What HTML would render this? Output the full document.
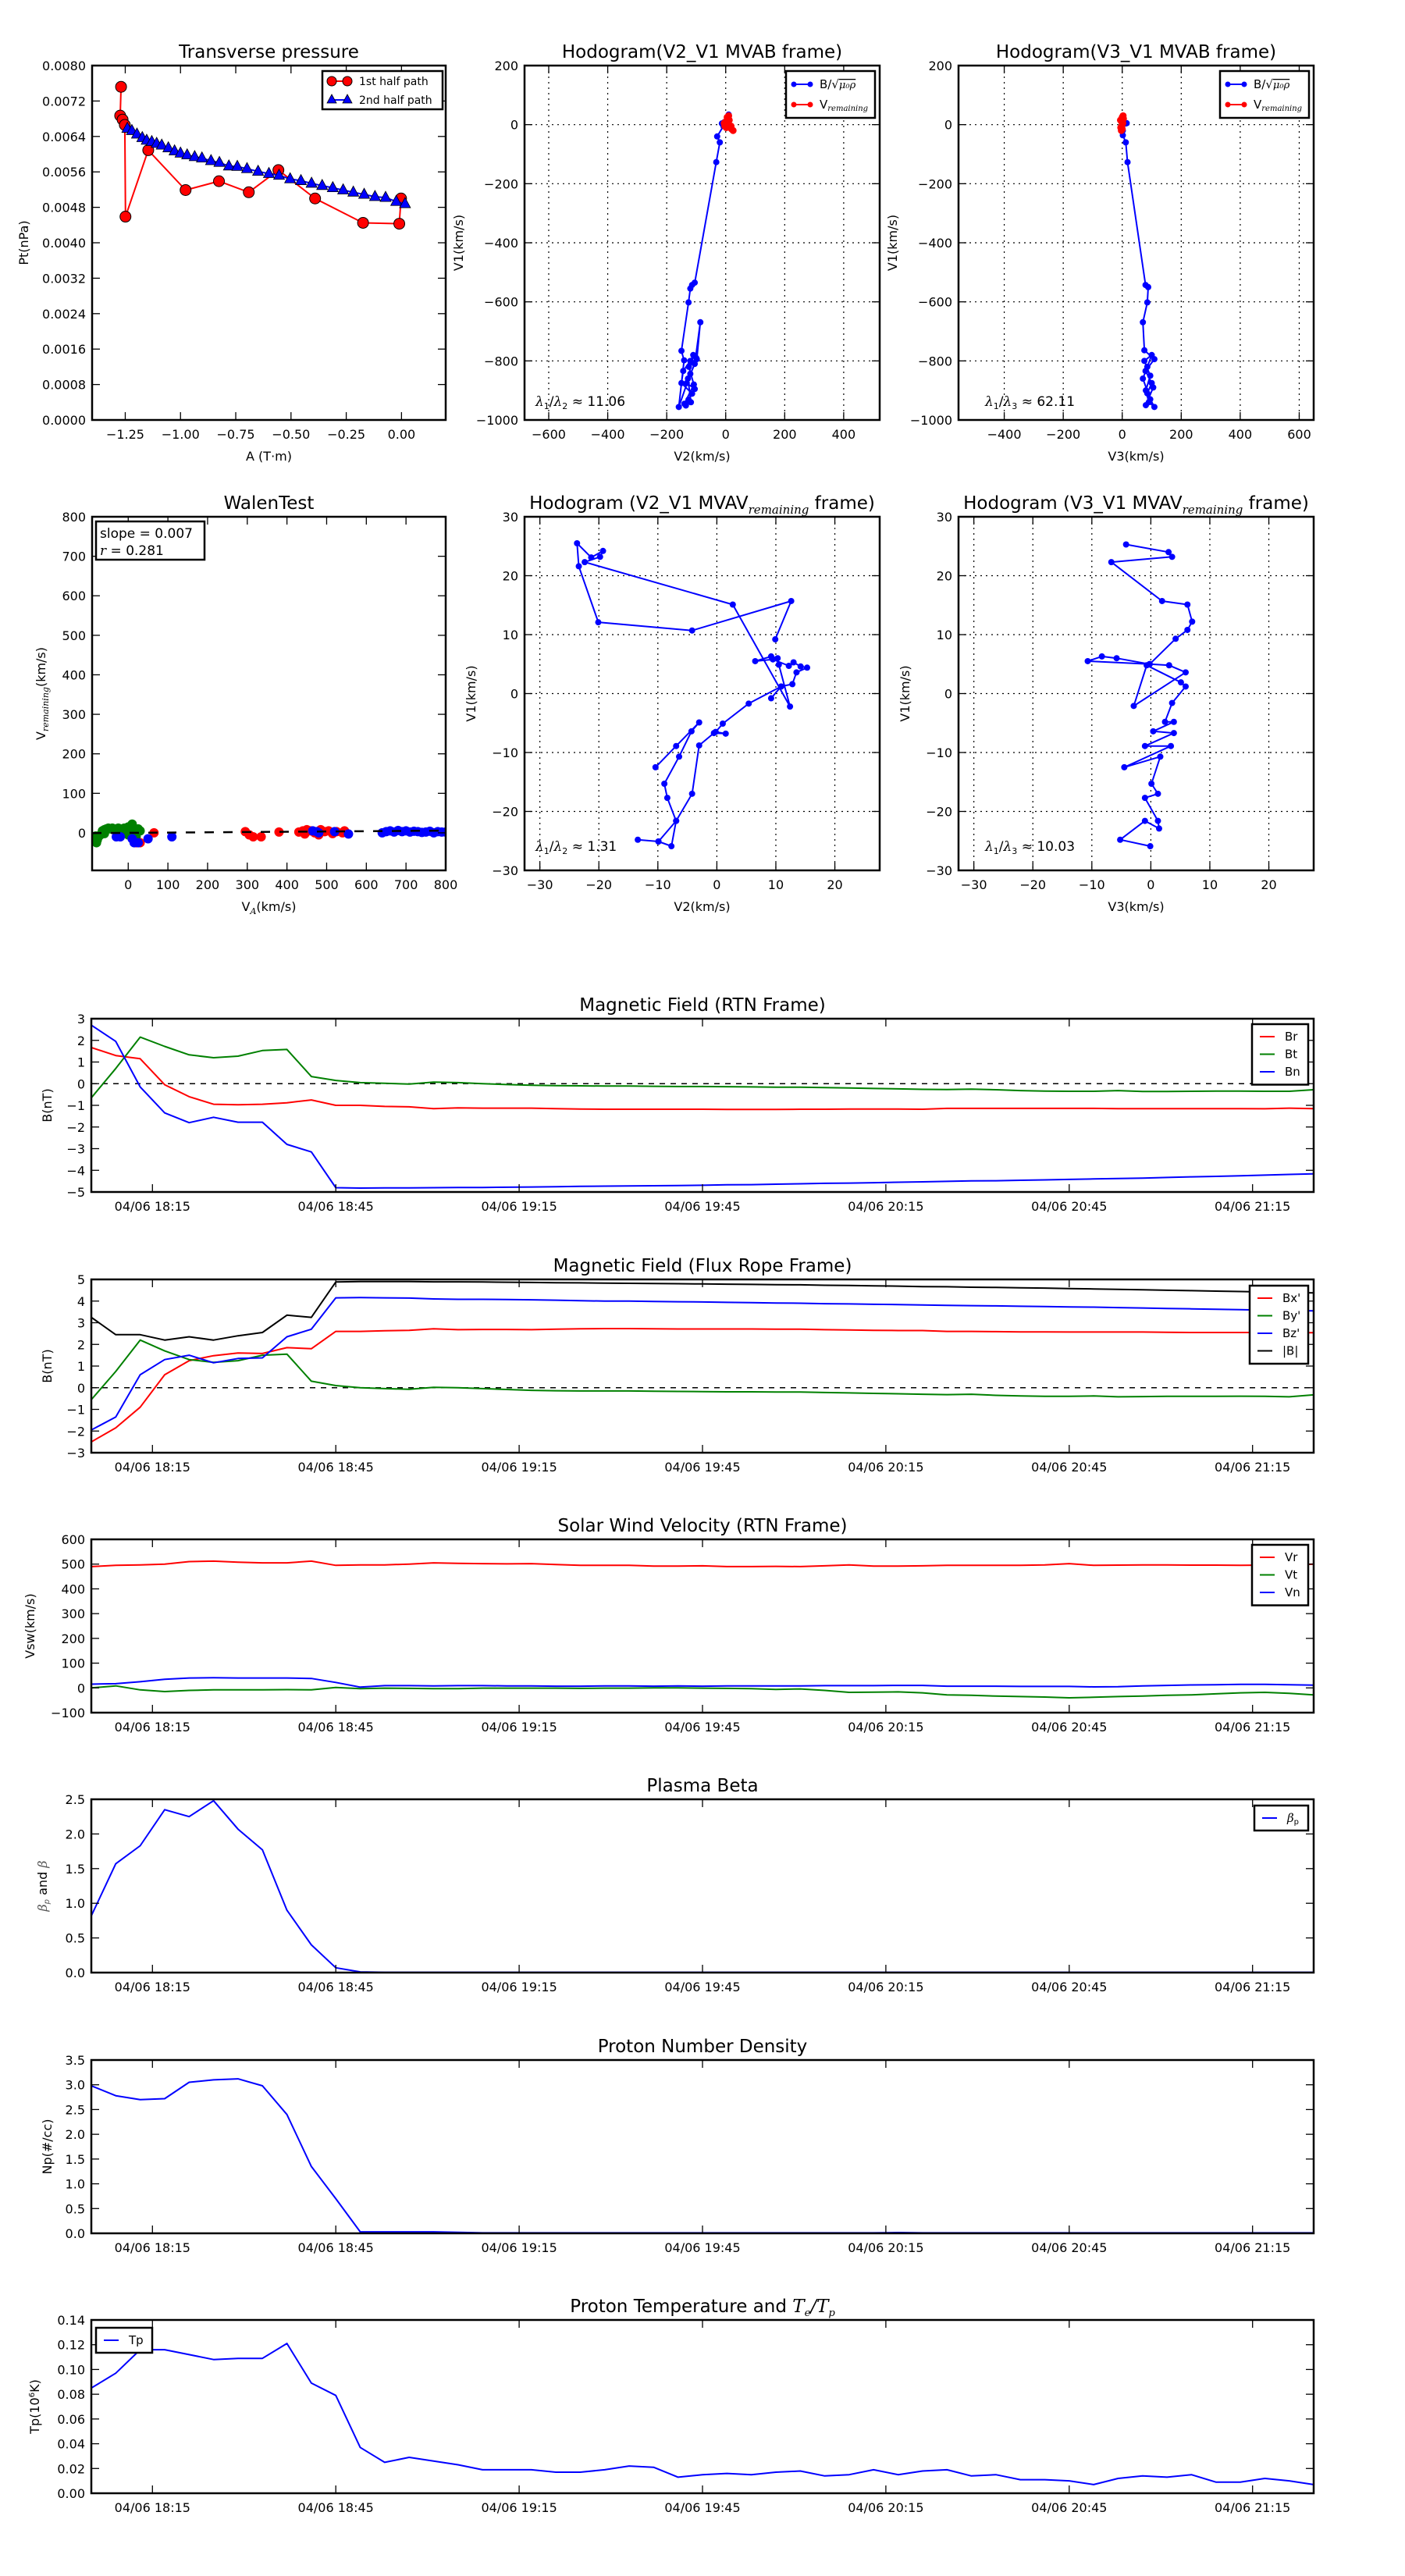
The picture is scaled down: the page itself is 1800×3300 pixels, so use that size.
<!DOCTYPE html>
<html><head><meta charset="utf-8"><title>Flux rope analysis</title>
<style>
html,body{margin:0;padding:0;background:#fff;}
svg{display:block;font-family:"DejaVu Sans","Liberation Sans",sans-serif;}
</style></head>
<body>
<svg id="fig" width="1800" height="3300" viewBox="0 0 1800 3300" xmlns="http://www.w3.org/2000/svg">
<rect x="0" y="0" width="1800" height="3300" fill="#fff"/>
</svg>
<script>
// ---------------- DATA ----------------
const ptRedA=[-1.269,-1.273,-1.262,-1.252,-1.249,-1.146,-0.977,-0.826,-0.691,-0.557,-0.391,-0.174,-0.01,-0.002];
const ptRedP=[0.00752,0.00687,0.00678,0.00666,0.00459,0.00609,0.00519,0.00539,0.00514,0.00564,0.00500,0.00445,0.00443,0.00500];
const ptBlueA=[-1.2405,-1.220,-1.197,-1.173,-1.153,-1.130,-1.108,-1.085,-1.055,-1.027,-1.000,-0.970,-0.936,-0.903,-0.862,-0.824,-0.781,-0.743,-0.699,-0.649,-0.600,-0.554,-0.504,-0.455,-0.407,-0.359,-0.311,-0.264,-0.218,-0.169,-0.120,-0.072,-0.024,0.016];
const ptBlueP=[0.00658,0.00653,0.00645,0.00637,0.00631,0.00628,0.00624,0.00620,0.00614,0.00607,0.00602,0.00598,0.00594,0.00591,0.00585,0.00581,0.00573,0.00572,0.00567,0.00561,0.00556,0.00552,0.00544,0.00540,0.00534,0.00529,0.00524,0.00519,0.00514,0.00509,0.00504,0.00502,0.00493,0.00488];

const h1BV2=[10,5,-5,-13,-8,-29,-20,-32,-105,-114,-120,-126,-150,-141,-159,-120,-98,-86,-105,-132,-105,-126,-135,-114,-150,-144,-120,-110,-128,-118,-140,-108,-125,-100];
const h1BV1=[34,20,8,4,-5,-40,-60,-127,-535,-543,-555,-602,-766,-798,-956,-844,-794,-669,-810,-875,-895,-931,-951,-911,-875,-834,-800,-780,-860,-940,-945,-880,-820,-790];
const h1RV2=[0,5,10,-5,15,20,25,8,-3,12,18,2];
const h1RV1=[10,25,30,5,-10,-15,-20,0,-5,15,-5,-10];
const h2BV3=[15,12,2,2,12,18,79,88,85,70,75,109,79,100,85,109,90,80,95,75,100,85,70,95,80,105];
const h2BV1=[5,4,-20,-36,-60,-127,-543,-550,-602,-669,-764,-794,-834,-875,-910,-956,-940,-900,-850,-800,-780,-820,-860,-930,-950,-890];
const h2RV3=[0,-2,0,3,-5,-3,2,-6,0,4];
const h2RV1=[0,10,25,30,-10,-20,5,15,-15,20];

const walenGreenX=[-88,-85,-80,-75,-70,-65,-60,-55,-50,-45,-40,-35,-30,-25,-20,-15,-10,-5,0,5,10,15,20,25,30,-82,-78,-60,0,20];
const walenGreenY=[-20,-15,-25,-10,-5,5,8,10,12,10,12,8,10,12,10,8,12,10,15,12,22,8,5,10,5,-8,-18,-2,-5,-10];
const walenRedX=[20,30,65,295,305,315,335,380,430,440,445,450,460,470,480,485,495,505,515,525,540,545];
const walenRedY=[-25,-25,0,3,-5,-10,-10,2,2,5,-3,8,5,0,-5,8,3,5,-2,3,0,5];
const walenBlueX=[-30,-20,10,15,25,50,110,465,475,480,520,555,640,650,660,670,680,690,700,710,720,730,740,750,760,770,780,790,800];
const walenBlueY=[-10,-10,-15,-25,-25,-15,-10,5,3,0,3,-3,0,3,5,2,6,3,5,2,4,3,1,2,4,0,3,2,2];
const walenSlope=0.007;

const h3V2=[9.9,12.6,-4.2,-20.1,-23.4,-23.7,-21.3,-19.3,-19.8,-22.4,2.7,12.4,10.5,10.3,9.2,6.5,9.5,12.2,13.0,14.2,15.3,13.5,12.8,10.9,9.2,10.9,5.4,1.0,-0.2,1.5,-0.5,-3.0,-4.2,-6.9,-7.7,-9.9,-13.4,-9.9,-6.9,-8.4,-8.9,-6.4,-4.3,-3.0,-6.9,-10.4];
const h3V1=[9.2,15.7,10.7,12.1,21.6,25.5,23.1,24.2,23.2,22.3,15.1,-2.2,4.9,6.0,6.3,5.5,5.8,4.7,5.3,4.6,4.4,3.6,1.6,1.2,-0.8,1.2,-1.7,-5.1,-6.5,-6.8,-6.7,-8.8,-17.0,-21.6,-25.9,-25.1,-24.8,-25.1,-21.6,-17.7,-15.3,-10.7,-6.4,-4.9,-8.9,-12.5];
const h4V3=[-4.2,3.0,3.6,-6.7,1.9,6.2,7.0,6.2,4.2,-0.2,-10.7,-8.3,-5.8,-0.2,3.1,5.9,-2.9,-0.7,5.1,5.9,3.6,2.4,3.9,0.4,3.9,-1.0,3.4,-4.5,1.6,0.1,1.2,-1.0,1.2,1.4,-1.0,-5.2,-0.1];
const h4V1=[25.3,24.0,23.2,22.3,15.7,15.1,12.2,10.8,9.3,5.0,5.5,6.3,6.0,5.0,4.8,3.6,-2.1,4.8,1.9,1.2,-1.6,-4.8,-4.8,-6.4,-6.7,-8.9,-8.9,-12.5,-10.7,-15.3,-17.0,-17.7,-21.6,-22.9,-21.6,-24.8,-25.9];

// time series: samples every 4 minutes starting 18:05
const timeStepMin=4;
const timeTickLabels=["04/06 18:15","04/06 18:45","04/06 19:15","04/06 19:45","04/06 20:15","04/06 20:45","04/06 21:15"];
const timeTickMin=[10,40,70,100,130,160,190];
const Br=[1.67,1.3,1.15,-0.05,-0.6,-0.95,-0.97,-0.95,-0.88,-0.75,-1.0,-1.0,-1.05,-1.07,-1.15,-1.12,-1.13,-1.13,-1.13,-1.15,-1.17,-1.18,-1.18,-1.18,-1.18,-1.18,-1.19,-1.19,-1.19,-1.18,-1.18,-1.17,-1.17,-1.17,-1.18,-1.14,-1.14,-1.14,-1.14,-1.14,-1.14,-1.14,-1.15,-1.15,-1.15,-1.15,-1.15,-1.15,-1.16,-1.13,-1.15];
const Bt=[-0.65,0.7,2.15,1.72,1.33,1.2,1.27,1.53,1.58,0.33,0.15,0.05,0.02,-0.02,0.07,0.05,0.0,-0.04,-0.07,-0.09,-0.1,-0.11,-0.11,-0.12,-0.13,-0.13,-0.14,-0.15,-0.16,-0.16,-0.18,-0.2,-0.22,-0.24,-0.26,-0.27,-0.25,-0.28,-0.32,-0.34,-0.35,-0.35,-0.32,-0.36,-0.36,-0.35,-0.34,-0.34,-0.35,-0.35,-0.28];
const Bn=[2.7,1.95,-0.15,-1.35,-1.8,-1.55,-1.78,-1.78,-2.8,-3.15,-4.8,-4.82,-4.81,-4.81,-4.8,-4.79,-4.79,-4.78,-4.77,-4.76,-4.74,-4.73,-4.72,-4.71,-4.7,-4.69,-4.67,-4.66,-4.64,-4.62,-4.6,-4.59,-4.57,-4.55,-4.53,-4.51,-4.49,-4.48,-4.46,-4.44,-4.42,-4.4,-4.38,-4.36,-4.33,-4.3,-4.28,-4.25,-4.22,-4.19,-4.16];
const Bxp=[-2.5,-1.85,-0.9,0.6,1.25,1.48,1.6,1.58,1.85,1.8,2.6,2.6,2.63,2.65,2.72,2.68,2.69,2.69,2.68,2.7,2.72,2.73,2.73,2.72,2.71,2.71,2.71,2.71,2.7,2.7,2.68,2.67,2.65,2.64,2.64,2.6,2.6,2.59,2.58,2.58,2.57,2.57,2.57,2.57,2.56,2.55,2.55,2.55,2.55,2.54,2.54];
const Byp=[-0.55,0.75,2.2,1.7,1.3,1.17,1.25,1.5,1.55,0.3,0.1,0.0,-0.04,-0.07,0.02,0.0,-0.04,-0.08,-0.12,-0.14,-0.15,-0.15,-0.15,-0.16,-0.17,-0.18,-0.19,-0.19,-0.2,-0.2,-0.22,-0.24,-0.26,-0.28,-0.3,-0.32,-0.3,-0.35,-0.38,-0.4,-0.4,-0.38,-0.42,-0.41,-0.4,-0.4,-0.4,-0.39,-0.4,-0.42,-0.33];
const Bzp=[-1.95,-1.35,0.6,1.3,1.5,1.15,1.35,1.38,2.35,2.7,4.15,4.16,4.15,4.14,4.1,4.08,4.08,4.07,4.06,4.04,4.02,4.0,4.0,3.98,3.97,3.96,3.94,3.93,3.91,3.9,3.88,3.87,3.85,3.84,3.82,3.8,3.79,3.78,3.76,3.75,3.73,3.72,3.7,3.68,3.66,3.64,3.62,3.6,3.58,3.56,3.55];
const Bmag=[3.25,2.45,2.45,2.2,2.35,2.2,2.4,2.55,3.35,3.25,4.88,4.9,4.9,4.9,4.89,4.89,4.88,4.87,4.86,4.85,4.84,4.83,4.82,4.81,4.8,4.79,4.78,4.77,4.76,4.75,4.73,4.72,4.7,4.69,4.67,4.66,4.64,4.63,4.61,4.6,4.58,4.56,4.54,4.52,4.5,4.48,4.46,4.44,4.42,4.4,4.38];
const Vr=[490,495,497,500,510,512,508,505,505,512,495,497,497,500,505,503,502,501,502,498,495,495,495,492,492,493,490,490,491,490,493,497,492,492,493,495,495,495,495,497,502,495,496,497,497,496,496,495,496,497,500];
const Vt=[0,8,-8,-15,-10,-8,-8,-8,-7,-8,2,-3,-1,-2,-3,-3,-1,-1,-1,-1,-2,-1,-1,0,0,-1,-2,-3,-6,-4,-10,-18,-17,-16,-20,-28,-30,-33,-35,-37,-40,-38,-35,-33,-30,-28,-24,-20,-18,-22,-28];
const Vn=[15,17,25,35,40,41,40,40,40,38,22,3,9,9,8,9,9,8,8,7,7,8,8,7,8,7,8,8,8,8,9,9,9,10,10,7,7,7,6,6,6,4,5,8,10,12,13,14,14,13,11];
const betaP=[0.82,1.57,1.83,2.35,2.25,2.48,2.07,1.77,0.9,0.4,0.07,0.01,0.005,0.005,0.005,0.005,0.005,0.005,0.005,0.005,0.005,0.005,0.005,0.005,0.005,0.005,0.005,0.005,0.005,0.005,0.005,0.005,0.005,0.005,0.005,0.005,0.005,0.005,0.005,0.005,0.005,0.005,0.005,0.005,0.005,0.005,0.005,0.005,0.005,0.005,0.005];
const Np=[2.98,2.78,2.7,2.72,3.05,3.1,3.12,2.98,2.4,1.35,0.7,0.03,0.03,0.03,0.03,0.02,0.01,0.01,0.01,0.01,0.01,0.01,0.01,0.01,0.01,0.01,0.01,0.01,0.01,0.01,0.01,0.01,0.01,0.015,0.01,0.01,0.01,0.01,0.01,0.01,0.01,0.01,0.01,0.01,0.01,0.01,0.01,0.01,0.01,0.01,0.01];
const Tp=[0.085,0.097,0.116,0.116,0.112,0.108,0.109,0.109,0.121,0.089,0.079,0.037,0.025,0.029,0.026,0.023,0.019,0.019,0.019,0.017,0.017,0.019,0.022,0.021,0.013,0.015,0.016,0.015,0.017,0.018,0.014,0.015,0.019,0.015,0.018,0.019,0.014,0.015,0.011,0.011,0.010,0.007,0.012,0.014,0.013,0.015,0.009,0.009,0.012,0.010,0.007];

// ---------------- HELPERS ----------------
const NS='http://www.w3.org/2000/svg';
const svg=document.getElementById('fig');
let cid=0;
function mk(tag,attrs,parent){const e=document.createElementNS(NS,tag);for(const k in attrs)e.setAttribute(k,attrs[k]);parent.appendChild(e);return e;}
function txt(s,attrs,parent){const t=mk('text',attrs,parent);t.textContent=s;return t;}
function mfmt(s){return String(s).replace('-','\u2212');}
function range(a,b,st){const r=[];for(let v=a;v<=b+st*1e-6;v+=st)r.push(+v.toFixed(6));return r;}

function axes(o){
  const g=mk('g',{},svg);
  
  
  const sx=v=>o.x0+(v-o.xmin)/(o.xmax-o.xmin)*(o.x1-o.x0);
  const sy=v=>o.y1-(v-o.ymin)/(o.ymax-o.ymin)*(o.y1-o.y0);
  const id='clip'+(cid++);
  const cp=mk('clipPath',{id:id},g);
  mk('rect',{x:o.x0,y:o.y0,width:o.x1-o.x0,height:o.y1-o.y0},cp);
  if(o.grid){
    o.xticks.forEach(v=>{const gl=mk('line',{x1:sx(v),x2:sx(v),y1:o.y0,y2:o.y1,stroke:'#000','stroke-width':1.2,'stroke-dasharray':'2,5'},g);
      
      });
    o.yticks.forEach(v=>{const gl=mk('line',{x1:o.x0,x2:o.x1,y1:sy(v),y2:sy(v),stroke:'#000','stroke-width':1.2,'stroke-dasharray':'2,5'},g);
      
      });
  }
  const plot=mk('g',{'clip-path':'url(#'+id+')'},g);
  
  
  const tk=mk('g',{stroke:'#000','stroke-width':1.3},g);
  o.xticks.forEach((v,i)=>{const X=sx(v);
    mk('line',{x1:X,x2:X,y1:o.y1,y2:o.y1-10},tk);
    mk('line',{x1:X,x2:X,y1:o.y0,y2:o.y0+10},tk);
    const t=txt(o.xtl[i],{x:X,y:o.y1+24,'text-anchor':'middle','font-size':16},g);
    
    });
  o.yticks.forEach((v,i)=>{const Y=sy(v);
    mk('line',{x1:o.x0,x2:o.x0+10,y1:Y,y2:Y},tk);
    mk('line',{x1:o.x1,x2:o.x1-10,y1:Y,y2:Y},tk);
    const t=txt(o.ytl[i],{x:o.x0-8,y:Y+6,'text-anchor':'end','font-size':16},g);
    
    });
  const fr=mk('rect',{x:o.x0,y:o.y0,width:o.x1-o.x0,height:o.y1-o.y0,fill:'none',stroke:'#000','stroke-width':2.5},g);
  
  
  const ti=mk('text',{x:(o.x0+o.x1)/2,y:o.y0-10,'text-anchor':'middle','font-size':23},g);
  ti.innerHTML=o.title;
  
  
  if(o.xlabel){const xl=mk('text',{x:(o.x0+o.x1)/2,y:o.y1+52,'text-anchor':'middle','font-size':16},g);
    xl.innerHTML=o.xlabel;
    
    }
  const yl=mk('text',{x:0,y:0,'text-anchor':'middle','font-size':16,transform:'translate('+o.ylx+','+((o.y0+o.y1)/2)+') rotate(-90)'},g);
  yl.innerHTML=o.ylabel;
  
  
  return {g:g,plot:plot,sx:sx,sy:sy};
}
function polyline(ax,xs,ys,color,w){
  let d='';xs.forEach((x,i)=>{d+=(i?'L':'M')+ax.sx(x).toFixed(1)+','+ax.sy(ys[i]).toFixed(1);});
  return mk('path',{d:d,fill:'none',stroke:color,'stroke-width':w||2,'stroke-linejoin':'round'},ax.plot);
}
function legendBox(g,x,y,w,h){
  const r=mk('rect',{x:x,y:y,width:w,height:h,fill:'#fff',stroke:'#000','stroke-width':2.5},g);
  
  
}

// ---------------- TRANSVERSE PRESSURE ----------------
(function(){
  const ax=axes({name:'transverse-pressure-chart',x0:118,x1:571,y0:84,y1:538,xmin:-1.4,xmax:0.2,ymin:0,ymax:0.008,
    xticks:[-1.25,-1,-0.75,-0.5,-0.25,0],xtl:['\u22121.25','\u22121.00','\u22120.75','\u22120.50','\u22120.25','0.00'],
    yticks:range(0,0.008,0.0008),ytl:range(0,0.008,0.0008).map(v=>v.toFixed(4)),
    title:'Transverse pressure',xlabel:'A (T\u00b7m)',ylabel:'Pt(nPa)',ylx:36});
  const rl=polyline(ax,ptRedA,ptRedP,'#f00',2);
  
  
  ptRedA.forEach((a,i)=>{const c=mk('circle',{cx:ax.sx(a),cy:ax.sy(ptRedP[i]),r:7,fill:'#f00',stroke:'#000','stroke-width':1},ax.plot);
    
    });
  const bl=polyline(ax,ptBlueA,ptBlueP,'#00f',2);
  
  
  ptBlueA.forEach((a,i)=>{const X=ax.sx(a),Y=ax.sy(ptBlueP[i]);
    const p=mk('polygon',{points:(X)+','+(Y-8)+' '+(X-7)+','+(Y+5)+' '+(X+7)+','+(Y+5),fill:'#00f',stroke:'#000','stroke-width':0.8},ax.plot);
    
    });
  const lg=mk('g',{},ax.g);
  
  
  legendBox(lg,413,91,154,49);
  mk('line',{x1:425,x2:445,y1:104,y2:104,stroke:'#f00','stroke-width':2},lg);
  mk('circle',{cx:425,cy:104,r:6,fill:'#f00',stroke:'#000','stroke-width':1},lg);
  mk('circle',{cx:445,cy:104,r:6,fill:'#f00',stroke:'#000','stroke-width':1},lg);
  const t1=txt('1st half path',{x:460,y:109,'font-size':14},lg);
  
  
  mk('line',{x1:425,x2:445,y1:128,y2:128,stroke:'#00f','stroke-width':2},lg);
  mk('polygon',{points:'425,121 419,132 431,132',fill:'#00f',stroke:'#000','stroke-width':0.8},lg);
  mk('polygon',{points:'445,121 439,132 451,132',fill:'#00f',stroke:'#000','stroke-width':0.8},lg);
  const t2=txt('2nd half path',{x:460,y:133,'font-size':14},lg);
  
  
})();

// ---------------- HODOGRAMS MVAB ----------------
function hodoLegend(g,x){
  const lg=mk('g',{},g);
  
  
  legendBox(lg,x,91,114,60);
  mk('line',{x1:x+10,x2:x+31,y1:108,y2:108,stroke:'#00f','stroke-width':2},lg);
  mk('circle',{cx:x+10,cy:108,r:3.5,fill:'#00f'},lg);
  mk('circle',{cx:x+31,cy:108,r:3.5,fill:'#00f'},lg);
  const a=mk('text',{x:x+43,y:113,'font-size':15},lg);
  a.innerHTML='B/\u221a<tspan font-family="DejaVu Serif" font-style="italic" font-size="13" text-decoration="overline">\u03bc\u2080\u03c1</tspan>';
  
  
  mk('line',{x1:x+10,x2:x+31,y1:134,y2:134,stroke:'#f00','stroke-width':2},lg);
  mk('circle',{cx:x+10,cy:134,r:3.5,fill:'#f00'},lg);
  mk('circle',{cx:x+31,cy:134,r:3.5,fill:'#f00'},lg);
  const b=mk('text',{x:x+43,y:139,'font-size':15},lg);
  b.innerHTML='V<tspan font-size="10" dy="3" font-family="DejaVu Serif" font-style="italic">remaining</tspan>';
  
  
}
function drawHodo(ax,xs,ys,color,r,nm){
  const l=polyline(ax,xs,ys,color,2);
  
  
  xs.forEach((x,i)=>{const c=mk('circle',{cx:ax.sx(x),cy:ax.sy(ys[i]),r:r,fill:color},ax.plot);
    
    });
}
function lambdaText(g,x,y,den,val){
  const t=mk('text',{x:x,y:y,'font-size':17},g);
  t.innerHTML='<tspan font-family="DejaVu Serif" font-style="italic">\u03bb</tspan><tspan font-size="11" dy="4">1</tspan><tspan dy="-4">/</tspan><tspan font-family="DejaVu Serif" font-style="italic">\u03bb</tspan><tspan font-size="11" dy="4">'+den+'</tspan><tspan dy="-4"> \u2248 '+val+'</tspan>';
  
  
}
(function(){
  const yt=range(-1000,200,200);
  const ax=axes({name:'hodogram-v2-v1-mvab',x0:672,x1:1127,y0:84,y1:538,xmin:-682,xmax:522,ymin:-1000,ymax:200,
    xticks:[-600,-400,-200,0,200,400],xtl:['\u2212600','\u2212400','\u2212200','0','200','400'],
    yticks:yt,ytl:yt.map(mfmt),grid:true,title:'Hodogram(V2_V1 MVAB frame)',xlabel:'V2(km/s)',ylabel:'V1(km/s)',ylx:593});
  drawHodo(ax,h1BV2,h1BV1,'#00f',4,'b-field');
  drawHodo(ax,h1RV2,h1RV1,'#f00',4.5,'v-remaining');
  hodoLegend(ax.g,1007);
  lambdaText(ax.g,686,520,'2','11.06');
  const ax2=axes({name:'hodogram-v3-v1-mvab',x0:1228,x1:1683,y0:84,y1:538,xmin:-555,xmax:649,ymin:-1000,ymax:200,
    xticks:[-400,-200,0,200,400,600],xtl:['\u2212400','\u2212200','0','200','400','600'],
    yticks:yt,ytl:yt.map(mfmt),grid:true,title:'Hodogram(V3_V1 MVAB frame)',xlabel:'V3(km/s)',ylabel:'V1(km/s)',ylx:1149});
  drawHodo(ax2,h2BV3,h2BV1,'#00f',4,'b-field');
  drawHodo(ax2,h2RV3,h2RV1,'#f00',4.5,'v-remaining');
  hodoLegend(ax2.g,1563);
  lambdaText(ax2.g,1262,520,'3','62.11');
})();

// ---------------- WALEN TEST ----------------
(function(){
  const t=range(0,800,100);
  const ax=axes({name:'walen-test-chart',x0:118,x1:571,y0:662,y1:1115,xmin:-91,xmax:800,ymin:-95,ymax:800,
    xticks:t,xtl:t.map(String),yticks:t,ytl:t.map(String),title:'WalenTest',
    xlabel:'V<tspan font-size="11" dy="4" font-family="DejaVu Serif" font-style="italic">A</tspan><tspan dy="-4">(km/s)</tspan>',
    ylabel:'V<tspan font-size="11" dy="4" font-family="DejaVu Serif" font-style="italic">remaining</tspan><tspan dy="-4">(km/s)</tspan>',ylx:58});
  [[walenGreenX,walenGreenY,'#008000','walen-point-green'],[walenRedX,walenRedY,'#f00','walen-point-red'],[walenBlueX,walenBlueY,'#00f','walen-point-blue']].forEach(s=>{
    s[0].forEach((x,i)=>{const c=mk('circle',{cx:ax.sx(x),cy:ax.sy(s[1][i]),r:6,fill:s[2]},ax.plot);
      
      });
  });
  const fl=mk('line',{x1:ax.sx(-91),y1:ax.sy(-91*walenSlope),x2:ax.sx(800),y2:ax.sy(800*walenSlope),stroke:'#000','stroke-width':2.5,'stroke-dasharray':'12,12'},ax.plot);
  
  
  const bx=mk('g',{},ax.g);
  
  
  legendBox(bx,123,668,139,49);
  txt('slope = 0.007',{x:128,y:689,'font-size':17},bx);
  const r=mk('text',{x:128,y:711,'font-size':17},bx);
  r.innerHTML='<tspan font-family="DejaVu Serif" font-style="italic">r</tspan> = 0.281';
})();

// ---------------- HODOGRAMS MVAV ----------------
(function(){
  const xt=[-30,-20,-10,0,10,20],yt=range(-30,30,10);
  const ttl=(a)=>'Hodogram ('+a+'_V1 MVAV<tspan font-size="15" dy="6" font-family="DejaVu Serif" font-style="italic">remaining</tspan><tspan dy="-6"> frame)</tspan>';
  const ax=axes({name:'hodogram-v2-v1-mvav',x0:672,x1:1127,y0:662,y1:1115,xmin:-32.6,xmax:27.6,ymin:-30,ymax:30,
    xticks:xt,xtl:xt.map(mfmt),yticks:yt,ytl:yt.map(mfmt),grid:true,title:ttl('V2'),xlabel:'V2(km/s)',ylabel:'V1(km/s)',ylx:609});
  drawHodo(ax,h3V2,h3V1,'#00f',4,'b-field');
  lambdaText(ax.g,686,1090,'2','1.31');
  const ax2=axes({name:'hodogram-v3-v1-mvav',x0:1228,x1:1683,y0:662,y1:1115,xmin:-32.6,xmax:27.6,ymin:-30,ymax:30,
    xticks:xt,xtl:xt.map(mfmt),yticks:yt,ytl:yt.map(mfmt),grid:true,title:ttl('V3'),xlabel:'V3(km/s)',ylabel:'V1(km/s)',ylx:1165});
  drawHodo(ax2,h4V3,h4V1,'#00f',4,'b-field');
  lambdaText(ax2.g,1262,1090,'3','10.03');
})();

// ---------------- TIME SERIES ----------------
function tsAxes(name,y0,ymin,ymax,yticks,ytl,title,ylabel,ylx){
  return axes({name:name,x0:117,x1:1683,y0:y0,y1:y0+222,xmin:0,xmax:200,ymin:ymin,ymax:ymax,
    xticks:timeTickMin,xtl:timeTickLabels,yticks:yticks,ytl:ytl,title:title,ylabel:ylabel,ylx:ylx});
}
function tsLine(ax,vals,color,nm){
  const xs=vals.map((v,i)=>i*timeStepMin);
  const l=polyline(ax,xs,vals,color,2);
  
  
}
function zeroLine(ax){
  const z=mk('line',{x1:117,x2:1683,y1:ax.sy(0),y2:ax.sy(0),stroke:'#000','stroke-width':1.5,'stroke-dasharray':'7,7'},ax.plot);
  
  
}
function tsLegend(g,x,y,w,entries,dy){
  const lg=mk('g',{},g);
  
  
  legendBox(lg,x,y,w,entries.length*dy+10);
  entries.forEach((e,i)=>{const Y=y+16+i*dy;
    mk('line',{x1:x+10,x2:x+29,y1:Y,y2:Y,stroke:e[1],'stroke-width':2},lg);
    const t=mk('text',{x:x+42,y:Y+5,'font-size':15},lg);
    t.innerHTML=e[0];
    
    });
}
(function(){
  let yt=range(-5,3,1);
  const a1=tsAxes('magnetic-field-rtn-chart',1305,-5,3,yt,yt.map(mfmt),'Magnetic Field (RTN Frame)','B(nT)',66);
  zeroLine(a1);
  tsLine(a1,Br,'#f00','br-line');
  tsLine(a1,Bt,'#008000','bt-line');
  tsLine(a1,Bn,'#00f','bn-line');
  tsLegend(a1.g,1604,1312,72,[['Br','#f00'],['Bt','#008000'],['Bn','#00f']],22.5);

  yt=range(-3,5,1);
  const a2=tsAxes('magnetic-field-flux-rope-chart',1639,-3,5,yt,yt.map(mfmt),'Magnetic Field (Flux Rope Frame)','B(nT)',66);
  zeroLine(a2);
  tsLine(a2,Bxp,'#f00','bx-prime-line');
  tsLine(a2,Byp,'#008000','by-prime-line');
  tsLine(a2,Bzp,'#00f','bz-prime-line');
  tsLine(a2,Bmag,'#000','b-magnitude-line');
  tsLegend(a2.g,1601,1647,75,[["Bx'",'#f00'],["By'",'#008000'],["Bz'",'#00f'],['|B|','#000']],22.5);

  yt=range(-100,600,100);
  const a3=tsAxes('solar-wind-velocity-chart',1972,-100,600,yt,yt.map(mfmt),'Solar Wind Velocity (RTN Frame)','Vsw(km/s)',44);
  tsLine(a3,Vr,'#f00','vr-line');
  tsLine(a3,Vt,'#008000','vt-line');
  tsLine(a3,Vn,'#00f','vn-line');
  tsLegend(a3.g,1604,1979,72,[['Vr','#f00'],['Vt','#008000'],['Vn','#00f']],22.5);

  yt=range(0,2.5,0.5);
  const a4=tsAxes('plasma-beta-chart',2305,0,2.5,yt,yt.map(v=>v.toFixed(1)),'Plasma Beta',
    '<tspan font-family="DejaVu Serif" font-style="italic" fill="#555">\u03b2</tspan><tspan font-size="10" font-style="italic" fill="#555" dy="3">p</tspan><tspan dy="-3"> and </tspan><tspan font-family="DejaVu Serif" font-style="italic" fill="#555">\u03b2</tspan>',60);
  tsLine(a4,betaP,'#00f','beta-p-line');
  tsLegend(a4.g,1607,2313,69,[['<tspan font-family="DejaVu Serif" font-style="italic">\u03b2</tspan><tspan font-size="10" dy="3">p</tspan>','#00f']],22);

  yt=range(0,3.5,0.5);
  const a5=tsAxes('proton-density-chart',2639,0,3.5,yt,yt.map(v=>v.toFixed(1)),'Proton Number Density','Np(#/cc)',66);
  tsLine(a5,Np,'#00f','np-line');

  yt=range(0,0.14,0.02);
  const a6=tsAxes('proton-temperature-chart',2972,0,0.14,yt,yt.map(v=>v.toFixed(2)),
    'Proton Temperature and <tspan font-family="DejaVu Serif" font-style="italic">T</tspan><tspan font-size="13" dy="5" font-family="DejaVu Serif" font-style="italic">e</tspan><tspan dy="-5" font-family="DejaVu Serif" font-style="italic">/T</tspan><tspan font-size="13" dy="5" font-family="DejaVu Serif" font-style="italic">p</tspan>',
    'Tp(10<tspan font-size="10" dy="-6">6</tspan><tspan dy="6">K)</tspan>',50);
  tsLine(a6,Tp,'#00f','tp-line');
  tsLegend(a6.g,123,2982,72,[['Tp','#00f']],22);
})();
</script>
</body></html>
